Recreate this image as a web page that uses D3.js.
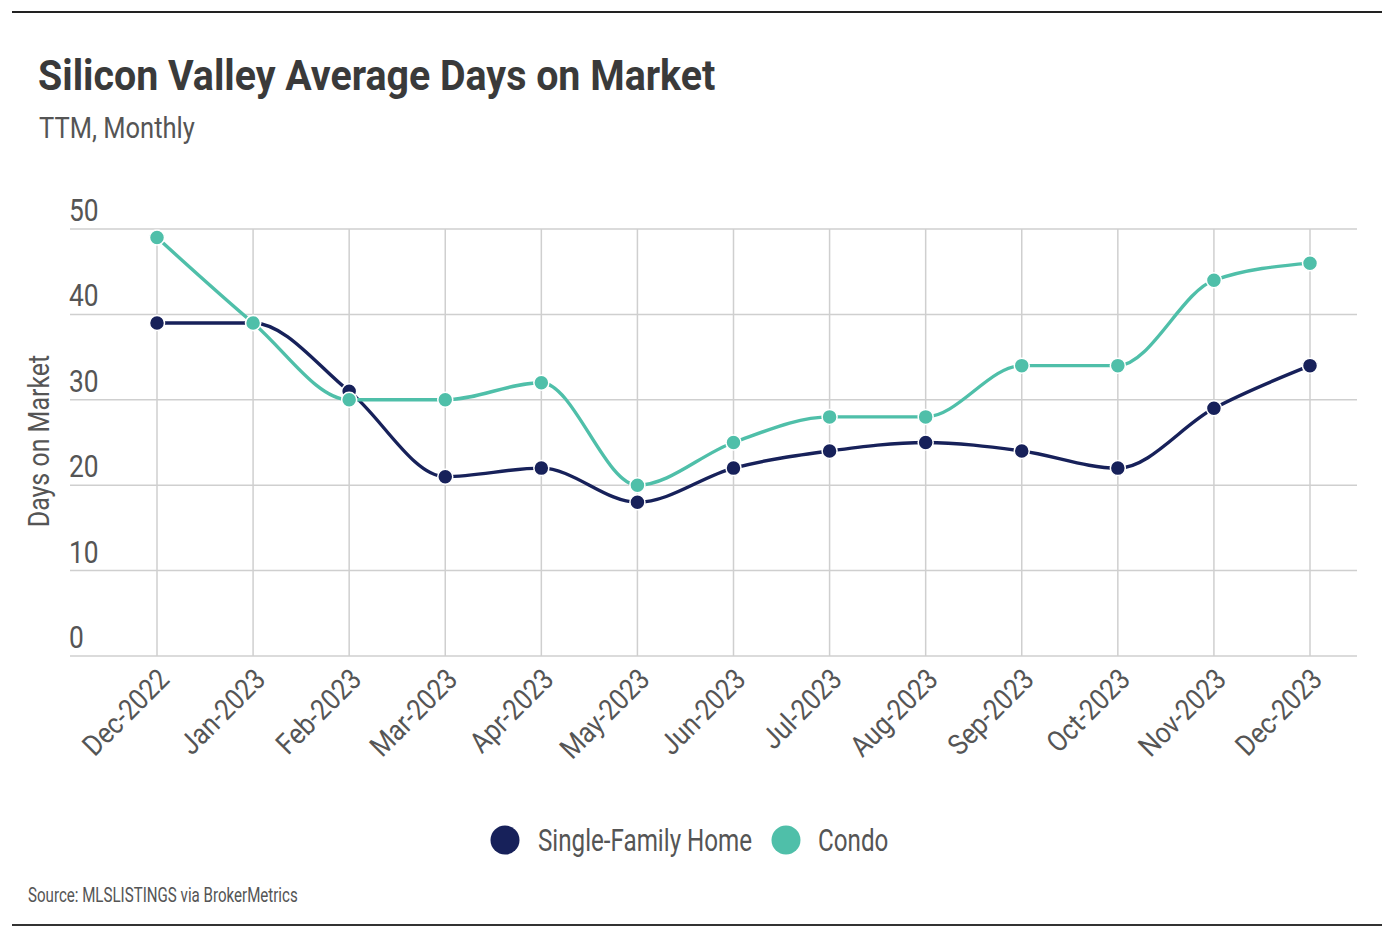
<!DOCTYPE html>
<html><head><meta charset="utf-8">
<script src="https://cdn.jsdelivr.net/npm/d3@7"></script>
<style>
body{margin:0;background:#fff;}
svg text{font-family:"Roboto","Noto Sans",sans-serif;}
</style></head>
<body><svg id="c" width="1394" height="940"></svg>
<script>
const months = ["Dec-2022","Jan-2023","Feb-2023","Mar-2023","Apr-2023","May-2023","Jun-2023","Jul-2023","Aug-2023","Sep-2023","Oct-2023","Nov-2023","Dec-2023"];
const singleFamily = [39,39,31,21,22,18,22,24,25,24,22,29,34];
const condo = [49,39,30,30,32,20,25,28,28,34,34,44,46];
const yTicks = [0,10,20,30,40,50];
const seriesNames = ["Single-Family Home","Condo"];
const colors = ["#17215a","#4fbfa9"];

const svg = d3.select("#c");
const x = d3.scalePoint().domain(months).range([157,1310]);
const y = d3.scaleLinear().domain([0,50]).range([656,229]);
const gx0 = 70, gx1 = 1357;

// condense text to mimic a narrow typeface
function narrow(sel, f){
  sel.each(function(){
    const w = this.getComputedTextLength();
    d3.select(this).attr("textLength", w*f).attr("lengthAdjust","spacingAndGlyphs");
  });
}

svg.append("line").attr("x1",12).attr("x2",1382).attr("y1",12).attr("y2",12).attr("stroke","#222").attr("stroke-width",2);
svg.append("line").attr("x1",12).attr("x2",1382).attr("y1",925).attr("y2",925).attr("stroke","#333").attr("stroke-width",2);

svg.append("text").attr("x",38).attr("y",90).attr("font-size",43).attr("font-weight","bold").attr("fill","#3a3a3a")
  .text("Silicon Valley Average Days on Market").call(narrow,0.915);
svg.append("text").attr("x",39).attr("y",138).attr("font-size",29).attr("fill","#555").text("TTM, Monthly").call(narrow,0.88);

// grid
const g = svg.append("g");
g.selectAll(".hg").data(yTicks).join("line").attr("x1",gx0).attr("x2",gx1)
 .attr("y1",d=>y(d)).attr("y2",d=>y(d)).attr("stroke","#cfcfcf").attr("stroke-width",1.5);
g.selectAll(".vg").data(months).join("line").attr("x1",d=>x(d)).attr("x2",d=>x(d))
 .attr("y1",y(50)).attr("y2",y(0)).attr("stroke","#cfcfcf").attr("stroke-width",1.5);

// y tick labels
svg.selectAll(".yt").data(yTicks).join("text").attr("x",69).attr("y",d=>y(d)-8)
 .attr("font-size",31).attr("fill","#555").text(d=>d).call(narrow,0.85);
svg.append("text").attr("transform","translate(49,441) rotate(-90)").attr("text-anchor","middle")
 .attr("font-size",29).attr("fill","#555").text("Days on Market").call(narrow,0.86);

// x tick labels
svg.selectAll(".xt").data(months).join("text")
 .attr("transform",d=>`translate(${x(d)+14},${681}) rotate(-45)`)
 .attr("text-anchor","end").attr("font-size",29).attr("fill","#555").text(d=>d).call(narrow,0.88);

// lines
const line = d3.line().x((d,i)=>x(months[i])).y(d=>y(d)).curve(d3.curveMonotoneX);
[singleFamily, condo].forEach((s,k)=>{
  svg.append("path").attr("d",line(s)).attr("fill","none").attr("stroke",colors[k]).attr("stroke-width",3.4);
  svg.selectAll(".p"+k).data(s).join("circle").attr("cx",(d,i)=>x(months[i])).attr("cy",d=>y(d))
   .attr("r",7.5).attr("fill",colors[k]).attr("stroke","#fff").attr("stroke-width",1.5);
});

// legend
const leg = [{cx:505,tx:538},{cx:786,tx:818}];
seriesNames.forEach((n,k)=>{
  svg.append("circle").attr("cx",leg[k].cx).attr("cy",840).attr("r",14.5).attr("fill",colors[k]);
  svg.append("text").attr("x",leg[k].tx).attr("y",851).attr("font-size",31).attr("fill","#555").text(n).call(narrow,0.78);
});

svg.append("text").attr("x",28).attr("y",902).attr("font-size",20).attr("fill","#555")
  .text("Source:  MLSLISTINGS via BrokerMetrics").call(narrow,0.755);
</script></body></html>
